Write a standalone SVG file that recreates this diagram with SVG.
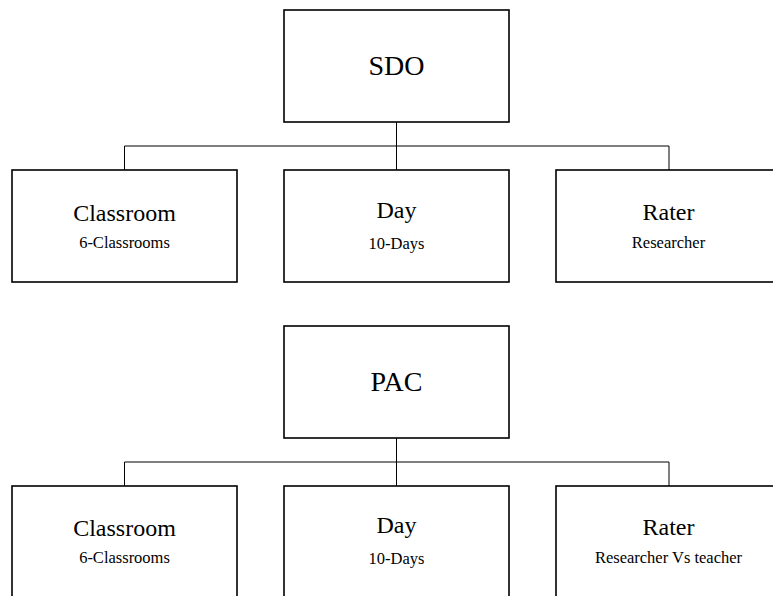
<svg xmlns="http://www.w3.org/2000/svg" width="773" height="596" viewBox="0 0 773 596">
<style>
.box{fill:#fff;stroke:#000;stroke-width:1.6}
.ln{fill:none;stroke:#000;stroke-width:1}
text{font-family:"Liberation Serif","Times New Roman",serif;fill:#000;text-anchor:middle}
.big{font-size:28px}
.mid{font-size:24px}
.sm{font-size:16.5px}
</style>
<rect width="773" height="596" fill="#fff"/>
<g id="connectors">
<path class="ln" d="M396.5 122V170M124.5 170V146H669V170"/>
<path class="ln" d="M396.5 438V486M124.5 486V462H669V486"/>
</g>
<g id="sdo"><rect class="box" x="284" y="10" width="225" height="112"/><text class="big" x="396.5" y="75">SDO</text></g>
<g id="classroom1"><rect class="box" x="12" y="170" width="225" height="112"/><text class="mid" x="124.5" y="220.5">Classroom</text><text class="sm" x="124.5" y="247.5">6-Classrooms</text></g>
<g id="day1"><rect class="box" x="284" y="170" width="225" height="112"/><text class="mid" x="396.5" y="217.5">Day</text><text class="sm" x="396.5" y="248.5">10-Days</text></g>
<g id="rater1"><rect class="box" x="556" y="170" width="225" height="112"/><text class="mid" x="668.5" y="220">Rater</text><text class="sm" x="668.5" y="247.5">Researcher</text></g>
<g id="pac"><rect class="box" x="284" y="326" width="225" height="112"/><text class="big" x="396.5" y="391">PAC</text></g>
<g id="classroom2"><rect class="box" x="12" y="486" width="225" height="112"/><text class="mid" x="124.5" y="535.5">Classroom</text><text class="sm" x="124.5" y="562.7">6-Classrooms</text></g>
<g id="day2"><rect class="box" x="284" y="486" width="225" height="112"/><text class="mid" x="396.5" y="532.5">Day</text><text class="sm" x="396.5" y="564.3">10-Days</text></g>
<g id="rater2"><rect class="box" x="556" y="486" width="225" height="112"/><text class="mid" x="668.5" y="535">Rater</text><text class="sm" x="668.5" y="562.7">Researcher Vs teacher</text></g>
</svg>
